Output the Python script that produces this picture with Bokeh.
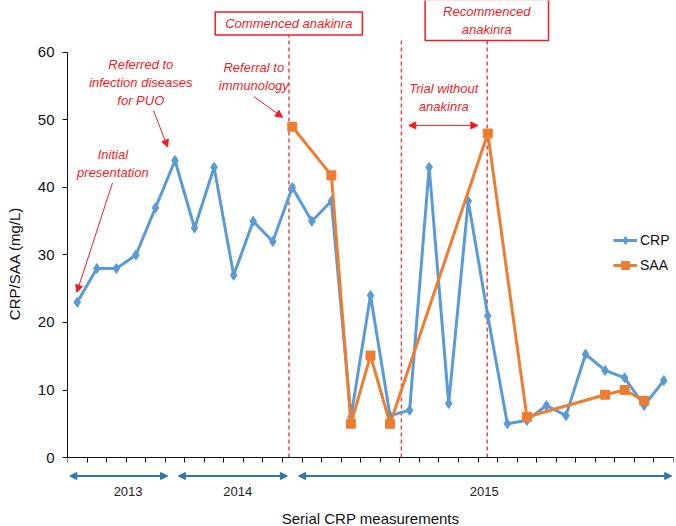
from bokeh.plotting import figure
from bokeh.models import (Range1d, FixedTicker, Label, Arrow, NormalHead, Legend, LegendItem,
                          ColumnDataSource)
from bokeh.embed import file_html
from bokeh.resources import INLINE

# ---------------- data ----------------
crp_x = list(range(1, 32))
crp = [23, 28, 28, 30, 37, 44, 34, 43, 27, 35, 32, 40, 35, 38, 6, 24, 6.2, 7, 43, 8,
       38, 21, 5, 5.5, 7.7, 6.2, 15.3, 12.9, 11.8, 7.7, 11.4]
saa_x = [12, 14, 15, 16, 17, 22, 24, 28, 29, 30]
saa = [49, 41.8, 5, 15.1, 5, 48, 6, 9.3, 10, 8.4]

y_ticks = [0, 10, 20, 30, 40, 50, 60]
x_edges = [i + 0.5 for i in range(0, 32)]

years = ["2013", "2014", "2015"]
year_start = [0.62, 6.17, 12.32]
year_end = [5.62, 11.75, 31.41]
year_mid = [3.6, 9.21, 21.82]

event_x = [11.83, 17.58, 21.97]
event_top = [62.5, 62.2, 61.9]

RED = "#EE1C25"
DASH = "#E8474C"
BLUE = "#5B9BD5"
ORANGE = "#ED7D31"
DARKBLUE = "#2E75B6"
FONT = "Liberation Sans"

p = figure(width=676, height=526, x_range=Range1d(0.5, 31.5), y_range=Range1d(-10.22, 67.7),
           output_backend="svg", toolbar_location=None,
           min_border_left=67, min_border_right=3, min_border_top=0, min_border_bottom=0)
p.xgrid.visible = False
p.ygrid.visible = False
p.outline_line_color = None
p.background_fill_color = "white"
p.border_fill_color = "white"

# axes
ya = p.yaxis[0]
ya.ticker = FixedTicker(ticks=y_ticks)
ya.bounds = (0, 60)
ya.major_tick_out = 5
ya.major_tick_in = 0
ya.minor_tick_line_color = None
ya.major_label_text_font = FONT
ya.major_label_text_font_size = "15px"
ya.major_label_text_color = "#111111"
ya.major_label_standoff = 8
ya.axis_label = "CRP/SAA (mg/L)"
ya.axis_label_text_font = FONT
ya.axis_label_text_font_size = "15px"
ya.axis_label_text_font_style = "normal"
ya.axis_label_text_color = "#111111"
ya.axis_label_standoff = 12
ya.axis_line_color = "#111111"
ya.major_tick_line_color = "#111111"

xa = p.xaxis[0]
xa.fixed_location = 0
xa.ticker = FixedTicker(ticks=x_edges)
xa.major_tick_out = 5
xa.major_tick_in = 0
xa.minor_tick_line_color = None
xa.major_label_text_font_size = "0px"
xa.major_label_standoff = 0
xa.axis_line_color = "#111111"
xa.major_tick_line_color = "#111111"

# x axis title
p.add_layout(Label(x=16.0, y=-9.0, text="Serial CRP measurements", text_font=FONT,
                   text_font_size="15px", text_color="#111111", text_align="center",
                   text_baseline="middle"))

# event dashed lines
ev = ColumnDataSource(dict(x=event_x, y0=[0] * len(event_x), y1=event_top))
p.segment(x0="x", y0="y0", x1="x", y1="y1", source=ev, line_color=DASH,
          line_width=1.5, line_dash="4 3")

# series
crp_line = p.line(crp_x, crp, line_color=BLUE, line_width=3)
crp_pts = p.scatter(crp_x, crp, marker="diamond", size=10, fill_color=BLUE, line_color=BLUE)
saa_line = p.line(saa_x, saa, line_color=ORANGE, line_width=3)
saa_pts = p.scatter(saa_x, saa, marker="square", size=9, fill_color=ORANGE, line_color=ORANGE)

legend = Legend(items=[LegendItem(label="CRP", renderers=[crp_line, crp_pts]),
                       LegendItem(label="SAA", renderers=[saa_line, saa_pts])],
                location=(546, 251), orientation="vertical",
                border_line_color=None, background_fill_alpha=0,
                padding=0, margin=0, spacing=5, glyph_width=24, glyph_height=20,
                label_standoff=3, label_text_font=FONT, label_text_font_size="14px",
                label_text_color="#111111")
p.add_layout(legend, "center")

# text annotations
def note(x, y, text):
    p.add_layout(Label(x=x, y=y, text=text, text_font=FONT, text_font_size="13px",
                       text_font_style="italic", text_color=RED, text_align="center",
                       text_baseline="middle", text_line_height=1.2))

note(2.82, 43.6, "Initial\npresentation")
note(4.25, 55.56, "Referred to\ninfection diseases\nfor PUO")
note(10.03, 56.5, "Referral to\nimmunology")
note(19.75, 53.26, "Trial without\nanakinra")

p.add_layout(Label(x=11.82, y=64.3, text="Commenced anakinra", text_font=FONT,
                   text_font_size="13px", text_font_style="italic", text_color=RED,
                   text_align="center", text_baseline="middle",
                   border_line_color=RED, border_line_width=1.5,
                   background_fill_color="white", padding=(10, 4)))
p.add_layout(Label(x=21.95, y=64.8, text="Recommenced\nanakinra", text_font=FONT,
                   text_font_size="13px", text_font_style="italic", text_color=RED,
                   text_align="center", text_baseline="middle", text_line_height=1.2,
                   border_line_color=RED, border_line_width=1.5,
                   background_fill_color="white", padding=(18, 4)))

def red_arrow(x0, y0, x1, y1, both=False):
    head = lambda: NormalHead(size=7, fill_color=RED, line_color=RED)
    p.add_layout(Arrow(x_start=x0, y_start=y0, x_end=x1, y_end=y1, line_color=RED,
                       line_width=1, end=head(), start=head() if both else None))

red_arrow(2.80, 40.67, 0.98, 24.5)
red_arrow(4.90, 51.4, 5.62, 46.0)
red_arrow(10.03, 53.48, 11.50, 50.4)
red_arrow(17.96, 49.2, 21.49, 49.2, both=True)

# year spans below axis
for yr, s, e, m in zip(years, year_start, year_end, year_mid):
    p.add_layout(Arrow(x_start=s, y_start=-2.74, x_end=e, y_end=-2.74, line_color=DARKBLUE,
                       line_width=2,
                       start=NormalHead(size=7, fill_color=DARKBLUE, line_color=DARKBLUE),
                       end=NormalHead(size=7, fill_color=DARKBLUE, line_color=DARKBLUE)))
    p.add_layout(Label(x=m, y=-5.04, text=yr, text_font=FONT, text_font_size="13px",
                       text_color="#222222", text_align="center", text_baseline="middle"))

open("out.html", "w").write(file_html(p, INLINE))
